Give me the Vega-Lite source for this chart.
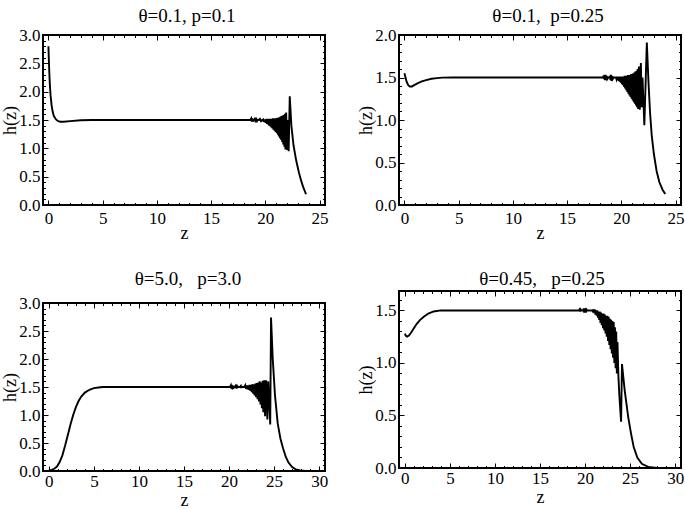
{
  "$schema": "https://vega.github.io/schema/vega-lite/v6.json",
  "padding": {"left": 0, "top": 6, "right": 0, "bottom": 0},
  "background": "white",
  "config": {
    "font": "Liberation Serif",
    "view": {"stroke": "black", "strokeWidth": 2},
    "axis": {
      "domain": false, "grid": false,
      "labelFont": "Liberation Serif", "labelFontSize": 17, "labelColor": "black",
      "titleFont": "Liberation Serif", "titleFontSize": 18, "titleFontWeight": "normal", "titleColor": "black",
      "tickColor": "black", "tickWidth": 1, "tickSize": -5
    },
    "axisX": {"labelPadding": 10, "titlePadding": -2},
    "axisY": {"labelPadding": 8, "titlePadding": -1},
    "title": {"font": "Liberation Serif", "fontSize": 19, "fontWeight": "normal", "color": "black", "frame": "group", "baseline": "alphabetic"},
    "line": {"color": "black", "strokeWidth": 1.9}
  },
  "datasets": {
    "p1": [
      {"z":0,"h":2.8},{"z":0.05,"h":2.5},{"z":0.1,"h":2.25},{"z":0.15,"h":2.07},{"z":0.2,"h":1.93},{"z":0.3,"h":1.75},{"z":0.4,"h":1.64},{"z":0.5,"h":1.57},{"z":0.7,"h":1.51},{"z":0.9,"h":1.48},{"z":1.1,"h":1.47},{"z":1.4,"h":1.47},{"z":2.0,"h":1.48},{"z":3.0,"h":1.495},{"z":4.0,"h":1.5},{"z":18.3,"h":1.5},
      {"z":18.6,"h":1.5},{"z":18.7,"h":1.53},{"z":18.75,"h":1.47},{"z":18.8,"h":1.53},{"z":18.85,"h":1.47},{"z":18.9,"h":1.5},{"z":19.0,"h":1.5},{"z":19.05,"h":1.54},{"z":19.1,"h":1.46},{"z":19.15,"h":1.54},{"z":19.2,"h":1.46},{"z":19.25,"h":1.5},{"z":19.4,"h":1.5},{"z":19.5,"h":1.52},{"z":19.6,"h":1.48},{"z":19.7,"h":1.5},
      {"z":19.8,"h":1.51},{"z":19.85,"h":1.47},{"z":19.9,"h":1.51},{"z":19.95,"h":1.46},{"z":20.0,"h":1.51},{"z":20.05,"h":1.45},{"z":20.1,"h":1.52},{"z":20.15,"h":1.43},{"z":20.2,"h":1.52},{"z":20.25,"h":1.42},{"z":20.3,"h":1.52},{"z":20.35,"h":1.4},{"z":20.4,"h":1.52},{"z":20.45,"h":1.39},{"z":20.5,"h":1.52},{"z":20.55,"h":1.37},{"z":20.6,"h":1.52},{"z":20.65,"h":1.35},{"z":20.7,"h":1.53},{"z":20.75,"h":1.33},{"z":20.8,"h":1.53},{"z":20.85,"h":1.31},{"z":20.9,"h":1.53},{"z":20.95,"h":1.29},{"z":21.0,"h":1.53},{"z":21.05,"h":1.27},{"z":21.1,"h":1.54},{"z":21.15,"h":1.24},{"z":21.2,"h":1.54},{"z":21.25,"h":1.21},{"z":21.3,"h":1.55},{"z":21.35,"h":1.18},{"z":21.4,"h":1.56},{"z":21.45,"h":1.15},{"z":21.5,"h":1.57},{"z":21.55,"h":1.11},{"z":21.6,"h":1.58},{"z":21.65,"h":1.07},{"z":21.7,"h":1.59},{"z":21.75,"h":1.03},{"z":21.8,"h":1.61},{"z":21.85,"h":0.98},{"z":21.92,"h":1.63},{"z":22.0,"h":0.97},{"z":22.07,"h":1.5},{"z":22.15,"h":0.95},{"z":22.25,"h":1.92},{"z":22.4,"h":1.4},{"z":22.6,"h":1.05},{"z":22.85,"h":0.78},{"z":23.1,"h":0.57},{"z":23.3,"h":0.43},{"z":23.5,"h":0.31},{"z":23.75,"h":0.19}
    ],
    "p2": [
      {"z":0,"h":1.55},{"z":0.1,"h":1.5},{"z":0.2,"h":1.45},{"z":0.35,"h":1.41},{"z":0.5,"h":1.395},{"z":0.7,"h":1.395},{"z":0.9,"h":1.41},{"z":1.2,"h":1.43},{"z":1.6,"h":1.455},{"z":2.0,"h":1.47},{"z":2.5,"h":1.485},{"z":3.0,"h":1.493},{"z":3.5,"h":1.498},{"z":4.5,"h":1.5},{"z":18.0,"h":1.5},
      {"z":18.3,"h":1.5},{"z":18.35,"h":1.52},{"z":18.4,"h":1.48},{"z":18.45,"h":1.53},{"z":18.5,"h":1.47},{"z":18.55,"h":1.53},{"z":18.6,"h":1.47},{"z":18.65,"h":1.52},{"z":18.7,"h":1.48},{"z":18.8,"h":1.5},{"z":18.9,"h":1.5},{"z":18.95,"h":1.52},{"z":19.0,"h":1.47},{"z":19.05,"h":1.53},{"z":19.1,"h":1.46},{"z":19.15,"h":1.52},{"z":19.2,"h":1.48},{"z":19.3,"h":1.5},{"z":19.5,"h":1.5},
      {"z":19.55,"h":1.48},{"z":19.6,"h":1.51},{"z":19.65,"h":1.47},{"z":19.7,"h":1.51},{"z":19.75,"h":1.46},{"z":19.8,"h":1.51},{"z":19.85,"h":1.45},{"z":19.9,"h":1.51},{"z":19.95,"h":1.44},{"z":20.0,"h":1.51},{"z":20.05,"h":1.42},{"z":20.1,"h":1.51},{"z":20.15,"h":1.41},{"z":20.2,"h":1.51},{"z":20.25,"h":1.39},{"z":20.3,"h":1.52},{"z":20.35,"h":1.37},{"z":20.4,"h":1.52},{"z":20.45,"h":1.35},{"z":20.5,"h":1.52},{"z":20.55,"h":1.33},{"z":20.6,"h":1.53},{"z":20.65,"h":1.31},{"z":20.7,"h":1.53},{"z":20.75,"h":1.29},{"z":20.8,"h":1.53},{"z":20.85,"h":1.27},{"z":20.9,"h":1.54},{"z":20.95,"h":1.25},{"z":21.0,"h":1.54},{"z":21.05,"h":1.23},{"z":21.1,"h":1.55},{"z":21.15,"h":1.21},{"z":21.2,"h":1.56},{"z":21.25,"h":1.19},{"z":21.3,"h":1.57},{"z":21.35,"h":1.17},{"z":21.4,"h":1.58},{"z":21.45,"h":1.15},{"z":21.5,"h":1.6},{"z":21.55,"h":1.13},{"z":21.62,"h":1.63},{"z":21.7,"h":1.12},{"z":21.8,"h":1.67},{"z":21.88,"h":1.15},{"z":21.95,"h":1.5},{"z":22.12,"h":0.94},{"z":22.35,"h":1.91},{"z":22.5,"h":1.45},{"z":22.65,"h":1.08},{"z":22.8,"h":0.82},{"z":23.0,"h":0.6},{"z":23.25,"h":0.4},{"z":23.5,"h":0.27},{"z":23.8,"h":0.18},{"z":24.05,"h":0.13}
    ],
    "p3": [
      {"z":0,"h":0.01},{"z":0.3,"h":0.02},{"z":0.6,"h":0.04},{"z":0.9,"h":0.08},{"z":1.2,"h":0.16},{"z":1.5,"h":0.28},{"z":1.8,"h":0.45},{"z":2.1,"h":0.64},{"z":2.4,"h":0.83},{"z":2.7,"h":1.0},{"z":3.0,"h":1.14},{"z":3.3,"h":1.25},{"z":3.6,"h":1.33},{"z":4.0,"h":1.4},{"z":4.5,"h":1.45},{"z":5.0,"h":1.48},{"z":5.5,"h":1.49},{"z":6.0,"h":1.5},{"z":20.0,"h":1.5},
      {"z":20.1,"h":1.5},{"z":20.2,"h":1.53},{"z":20.25,"h":1.47},{"z":20.3,"h":1.54},{"z":20.35,"h":1.46},{"z":20.4,"h":1.53},{"z":20.45,"h":1.48},{"z":20.6,"h":1.5},{"z":20.7,"h":1.52},{"z":20.75,"h":1.48},{"z":20.8,"h":1.53},{"z":20.85,"h":1.47},{"z":20.9,"h":1.52},{"z":21.0,"h":1.5},{"z":21.2,"h":1.5},{"z":21.3,"h":1.52},{"z":21.35,"h":1.48},{"z":21.4,"h":1.51},{"z":21.5,"h":1.5},{"z":21.7,"h":1.5},
      {"z":21.8,"h":1.53},{"z":21.88,"h":1.47},{"z":21.96,"h":1.53},{"z":22.04,"h":1.46},{"z":22.12,"h":1.53},{"z":22.2,"h":1.45},{"z":22.28,"h":1.54},{"z":22.36,"h":1.43},{"z":22.44,"h":1.54},{"z":22.52,"h":1.41},{"z":22.6,"h":1.55},{"z":22.68,"h":1.38},{"z":22.76,"h":1.55},{"z":22.84,"h":1.35},{"z":22.92,"h":1.56},{"z":23.0,"h":1.32},{"z":23.08,"h":1.57},{"z":23.16,"h":1.28},{"z":23.24,"h":1.58},{"z":23.32,"h":1.24},{"z":23.4,"h":1.6},{"z":23.48,"h":1.19},{"z":23.56,"h":1.58},{"z":23.64,"h":1.12},{"z":23.72,"h":1.61},{"z":23.8,"h":1.05},{"z":23.9,"h":1.62},{"z":24.0,"h":0.98},{"z":24.12,"h":1.62},{"z":24.25,"h":0.92},{"z":24.35,"h":1.6},{"z":24.57,"h":0.83},{"z":24.66,"h":2.74},{"z":24.85,"h":2.0},{"z":25.1,"h":1.35},{"z":25.4,"h":0.85},{"z":25.7,"h":0.58},{"z":26.0,"h":0.4},{"z":26.3,"h":0.25},{"z":26.6,"h":0.15},{"z":27.0,"h":0.07},{"z":27.4,"h":0.03},{"z":27.9,"h":0.01},{"z":28.5,"h":0.0},{"z":29.8,"h":0.0}
    ],
    "p4": [
      {"z":0,"h":1.28},{"z":0.1,"h":1.26},{"z":0.25,"h":1.25},{"z":0.45,"h":1.26},{"z":0.7,"h":1.29},{"z":1.0,"h":1.33},{"z":1.3,"h":1.37},{"z":1.7,"h":1.41},{"z":2.1,"h":1.44},{"z":2.6,"h":1.47},{"z":3.2,"h":1.49},{"z":4.0,"h":1.5},{"z":19.0,"h":1.5},
      {"z":19.3,"h":1.5},{"z":19.4,"h":1.51},{"z":19.45,"h":1.49},{"z":19.5,"h":1.51},{"z":19.6,"h":1.5},{"z":19.8,"h":1.5},{"z":19.85,"h":1.52},{"z":19.9,"h":1.48},{"z":19.95,"h":1.52},{"z":20.0,"h":1.48},{"z":20.05,"h":1.52},{"z":20.1,"h":1.48},{"z":20.15,"h":1.51},{"z":20.25,"h":1.5},{"z":20.8,"h":1.5},
      {"z":20.87,"h":1.49},{"z":20.94,"h":1.51},{"z":21.01,"h":1.48},{"z":21.08,"h":1.51},{"z":21.15,"h":1.46},{"z":21.22,"h":1.5},{"z":21.29,"h":1.45},{"z":21.36,"h":1.5},{"z":21.43,"h":1.43},{"z":21.5,"h":1.49},{"z":21.57,"h":1.41},{"z":21.64,"h":1.49},{"z":21.71,"h":1.38},{"z":21.78,"h":1.48},{"z":21.85,"h":1.36},{"z":21.92,"h":1.47},{"z":21.99,"h":1.33},{"z":22.06,"h":1.47},{"z":22.13,"h":1.31},{"z":22.2,"h":1.46},{"z":22.27,"h":1.28},{"z":22.34,"h":1.45},{"z":22.41,"h":1.25},{"z":22.48,"h":1.45},{"z":22.55,"h":1.21},{"z":22.62,"h":1.44},{"z":22.69,"h":1.17},{"z":22.76,"h":1.42},{"z":22.83,"h":1.13},{"z":22.9,"h":1.41},{"z":22.97,"h":1.09},{"z":23.04,"h":1.4},{"z":23.11,"h":1.05},{"z":23.18,"h":1.39},{"z":23.25,"h":1.0},{"z":23.32,"h":1.34},{"z":23.39,"h":0.95},{"z":23.46,"h":1.3},{"z":23.53,"h":0.9},{"z":23.6,"h":1.2},{"z":23.7,"h":0.88},{"z":23.8,"h":0.7},{"z":24.0,"h":0.44},{"z":24.1,"h":0.99},{"z":24.4,"h":0.74},{"z":24.8,"h":0.48},{"z":25.1,"h":0.33},{"z":25.4,"h":0.2},{"z":25.8,"h":0.1},{"z":26.3,"h":0.04},{"z":27.0,"h":0.01},{"z":28.0,"h":0.0},{"z":29.8,"h":0.0}
    ]
  },
  "spacing": 26,
  "hconcat": [
    {
      "spacing": 25,
      "vconcat": [
        {
          "width": 282, "height": 170,
          "title": {"text": "θ=0.1, p=0.1", "offset": 0, "dx": 3},
          "data": {"name": "p1"},
          "layer": [
            {"mark": {"type": "line"},
             "encoding": {
               "x": {"field": "z", "type": "quantitative", "scale": {"domain": [-0.5, 25.5], "nice": false, "zero": false}, "axis": {"orient": "bottom", "values": [0,5,10,15,20,25], "title": "z"}},
               "y": {"field": "h", "type": "quantitative", "scale": {"domain": [0, 3], "nice": false}, "axis": {"orient": "left", "values": [0,0.5,1,1.5,2,2.5,3], "format": ".1f", "title": "h(z)"}}}},
            {"mark": {"type": "line", "strokeOpacity": 0},
             "encoding": {
               "x": {"field": "z", "type": "quantitative", "axis": {"orient": "top", "values": [0,5,10,15,20,25], "labels": false, "title": null}},
               "y": {"field": "h", "type": "quantitative", "axis": {"orient": "right", "values": [0,0.5,1,1.5,2,2.5,3], "labels": false, "title": null}}}},
            {"mark": {"type": "line", "strokeOpacity": 0},
             "encoding": {
               "x": {"field": "z", "type": "quantitative", "axis": {"orient": "bottom", "values": [1,2,3,4,6,7,8,9,11,12,13,14,16,17,18,19,21,22,23,24], "labels": false, "title": null, "tickSize": -2.5}},
               "y": {"field": "h", "type": "quantitative", "axis": {"orient": "left", "values": [0.1,0.2,0.3,0.4,0.6,0.7,0.8,0.9,1.1,1.2,1.3,1.4,1.6,1.7,1.8,1.9,2.1,2.2,2.3,2.4,2.6,2.7,2.8,2.9], "labels": false, "title": null, "tickSize": -2.5}}}},
            {"mark": {"type": "line", "strokeOpacity": 0},
             "encoding": {
               "x": {"field": "z", "type": "quantitative", "axis": {"orient": "top", "values": [1,2,3,4,6,7,8,9,11,12,13,14,16,17,18,19,21,22,23,24], "labels": false, "title": null, "tickSize": -2.5}},
               "y": {"field": "h", "type": "quantitative", "axis": {"orient": "right", "values": [0.1,0.2,0.3,0.4,0.6,0.7,0.8,0.9,1.1,1.2,1.3,1.4,1.6,1.7,1.8,1.9,2.1,2.2,2.3,2.4,2.6,2.7,2.8,2.9], "labels": false, "title": null, "tickSize": -2.5}}}}
          ],
          "resolve": {"axis": {"x": "independent", "y": "independent"}}
        },
        {
          "width": 282, "height": 168,
          "title": {"text": "θ=5.0,\u00a0\u00a0 p=3.0", "offset": 5.5, "dx": 4},
          "data": {"name": "p3"},
          "layer": [
            {"mark": {"type": "line"},
             "encoding": {
               "x": {"field": "z", "type": "quantitative", "scale": {"domain": [-0.65, 30.65], "nice": false, "zero": false}, "axis": {"orient": "bottom", "values": [0,5,10,15,20,25,30], "title": "z", "labelPadding": 7, "titlePadding": 2}},
               "y": {"field": "h", "type": "quantitative", "scale": {"domain": [0, 3], "nice": false}, "axis": {"orient": "left", "values": [0,0.5,1,1.5,2,2.5,3], "format": ".1f", "title": "h(z)"}}}},
            {"mark": {"type": "line", "strokeOpacity": 0},
             "encoding": {
               "x": {"field": "z", "type": "quantitative", "axis": {"orient": "top", "values": [0,5,10,15,20,25,30], "labels": false, "title": null}},
               "y": {"field": "h", "type": "quantitative", "axis": {"orient": "right", "values": [0,0.5,1,1.5,2,2.5,3], "labels": false, "title": null}}}},
            {"mark": {"type": "line", "strokeOpacity": 0},
             "encoding": {
               "x": {"field": "z", "type": "quantitative", "axis": {"orient": "bottom", "values": [1,2,3,4,6,7,8,9,11,12,13,14,16,17,18,19,21,22,23,24,26,27,28,29], "labels": false, "title": null, "tickSize": -2.5}},
               "y": {"field": "h", "type": "quantitative", "axis": {"orient": "left", "values": [0.1,0.2,0.3,0.4,0.6,0.7,0.8,0.9,1.1,1.2,1.3,1.4,1.6,1.7,1.8,1.9,2.1,2.2,2.3,2.4,2.6,2.7,2.8,2.9], "labels": false, "title": null, "tickSize": -2.5}}}},
            {"mark": {"type": "line", "strokeOpacity": 0},
             "encoding": {
               "x": {"field": "z", "type": "quantitative", "axis": {"orient": "top", "values": [1,2,3,4,6,7,8,9,11,12,13,14,16,17,18,19,21,22,23,24,26,27,28,29], "labels": false, "title": null, "tickSize": -2.5}},
               "y": {"field": "h", "type": "quantitative", "axis": {"orient": "right", "values": [0.1,0.2,0.3,0.4,0.6,0.7,0.8,0.9,1.1,1.2,1.3,1.4,1.6,1.7,1.8,1.9,2.1,2.2,2.3,2.4,2.6,2.7,2.8,2.9], "labels": false, "title": null, "tickSize": -2.5}}}}
          ],
          "resolve": {"axis": {"x": "independent", "y": "independent"}}
        }
      ]
    },
    {
      "spacing": 25,
      "vconcat": [
        {
          "width": 282, "height": 170,
          "title": {"text": "θ=0.1,\u00a0 p=0.25", "offset": 0, "dx": 8},
          "data": {"name": "p2"},
          "layer": [
            {"mark": {"type": "line"},
             "encoding": {
               "x": {"field": "z", "type": "quantitative", "scale": {"domain": [-0.5, 25.5], "nice": false, "zero": false}, "axis": {"orient": "bottom", "values": [0,5,10,15,20,25], "title": "z"}},
               "y": {"field": "h", "type": "quantitative", "scale": {"domain": [0, 2], "nice": false}, "axis": {"orient": "left", "values": [0,0.5,1,1.5,2], "format": ".1f", "title": "h(z)"}}}},
            {"mark": {"type": "line", "strokeOpacity": 0},
             "encoding": {
               "x": {"field": "z", "type": "quantitative", "axis": {"orient": "top", "values": [0,5,10,15,20,25], "labels": false, "title": null}},
               "y": {"field": "h", "type": "quantitative", "axis": {"orient": "right", "values": [0,0.5,1,1.5,2], "labels": false, "title": null}}}},
            {"mark": {"type": "line", "strokeOpacity": 0},
             "encoding": {
               "x": {"field": "z", "type": "quantitative", "axis": {"orient": "bottom", "values": [1,2,3,4,6,7,8,9,11,12,13,14,16,17,18,19,21,22,23,24], "labels": false, "title": null, "tickSize": -2.5}},
               "y": {"field": "h", "type": "quantitative", "axis": {"orient": "left", "values": [0.1,0.2,0.3,0.4,0.6,0.7,0.8,0.9,1.1,1.2,1.3,1.4,1.6,1.7,1.8,1.9], "labels": false, "title": null, "tickSize": -2.5}}}},
            {"mark": {"type": "line", "strokeOpacity": 0},
             "encoding": {
               "x": {"field": "z", "type": "quantitative", "axis": {"orient": "top", "values": [1,2,3,4,6,7,8,9,11,12,13,14,16,17,18,19,21,22,23,24], "labels": false, "title": null, "tickSize": -2.5}},
               "y": {"field": "h", "type": "quantitative", "axis": {"orient": "right", "values": [0.1,0.2,0.3,0.4,0.6,0.7,0.8,0.9,1.1,1.2,1.3,1.4,1.6,1.7,1.8,1.9], "labels": false, "title": null, "tickSize": -2.5}}}}
          ],
          "resolve": {"axis": {"x": "independent", "y": "independent"}}
        },
        {
          "width": 282, "height": 177,
          "title": {"text": "θ=0.45,\u00a0\u00a0 p=0.25", "offset": 2, "dx": 2},
          "data": {"name": "p4"},
          "layer": [
            {"mark": {"type": "line"},
             "encoding": {
               "x": {"field": "z", "type": "quantitative", "scale": {"domain": [-0.65, 30.65], "nice": false, "zero": false}, "axis": {"orient": "bottom", "values": [0,5,10,15,20,25,30], "title": "z", "labelPadding": 7, "titlePadding": 2}},
               "y": {"field": "h", "type": "quantitative", "scale": {"domain": [0, 1.685], "nice": false}, "axis": {"orient": "left", "values": [0,0.5,1,1.5], "format": ".1f", "title": "h(z)"}}}},
            {"mark": {"type": "line", "strokeOpacity": 0},
             "encoding": {
               "x": {"field": "z", "type": "quantitative", "axis": {"orient": "top", "values": [0,5,10,15,20,25,30], "labels": false, "title": null}},
               "y": {"field": "h", "type": "quantitative", "axis": {"orient": "right", "values": [0,0.5,1,1.5], "labels": false, "title": null}}}},
            {"mark": {"type": "line", "strokeOpacity": 0},
             "encoding": {
               "x": {"field": "z", "type": "quantitative", "axis": {"orient": "bottom", "values": [1,2,3,4,6,7,8,9,11,12,13,14,16,17,18,19,21,22,23,24,26,27,28,29], "labels": false, "title": null, "tickSize": -2.5}},
               "y": {"field": "h", "type": "quantitative", "axis": {"orient": "left", "values": [0.1,0.2,0.3,0.4,0.6,0.7,0.8,0.9,1.1,1.2,1.3,1.4,1.6], "labels": false, "title": null, "tickSize": -2.5}}}},
            {"mark": {"type": "line", "strokeOpacity": 0},
             "encoding": {
               "x": {"field": "z", "type": "quantitative", "axis": {"orient": "top", "values": [1,2,3,4,6,7,8,9,11,12,13,14,16,17,18,19,21,22,23,24,26,27,28,29], "labels": false, "title": null, "tickSize": -2.5}},
               "y": {"field": "h", "type": "quantitative", "axis": {"orient": "right", "values": [0.1,0.2,0.3,0.4,0.6,0.7,0.8,0.9,1.1,1.2,1.3,1.4,1.6], "labels": false, "title": null, "tickSize": -2.5}}}}
          ],
          "resolve": {"axis": {"x": "independent", "y": "independent"}}
        }
      ]
    }
  ]
}
